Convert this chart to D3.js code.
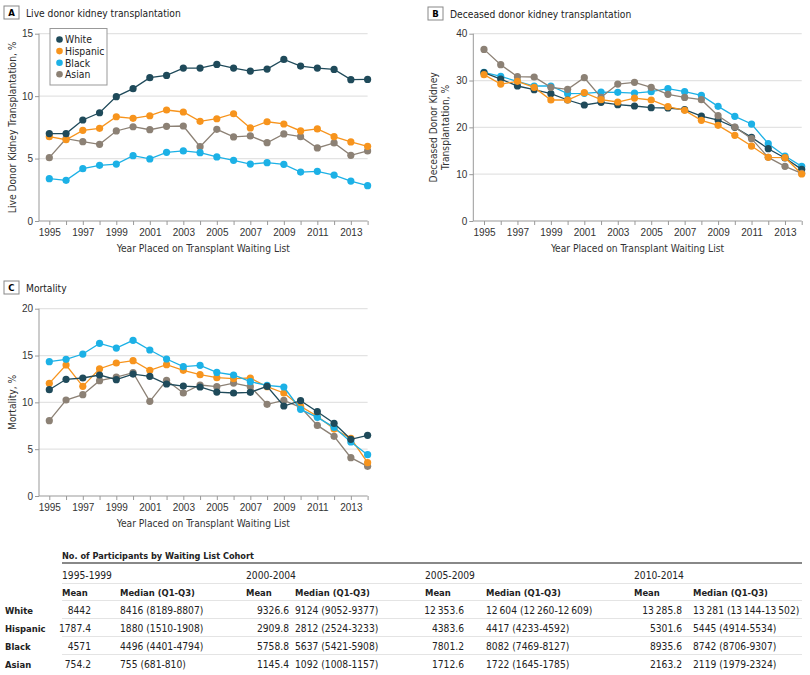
<!DOCTYPE html>
<html>
<head>
<meta charset="utf-8">
<script src="https://cdn.jsdelivr.net/npm/d3@7"></script>
<style>
  body { margin: 0; background: #fff; }
  svg { font-family: "DejaVu Sans Condensed", "DejaVu Sans", sans-serif; font-stretch: condensed; }
</style>
</head>
<body>
<div id="chart"></div>
<script>
// data
var years = d3.range(1995, 2015);
var groups = ["White", "Hispanic", "Black", "Asian"];
var colors = ["#1f4a5a", "#f7941d", "#1cb1e6", "#8c8175"];

var liveWhite    = [7.0, 7.0, 8.09, 8.67, 9.96, 10.6, 11.48, 11.66, 12.25, 12.25, 12.54, 12.25, 12.01, 12.17, 12.94, 12.41, 12.25, 12.14, 11.32, 11.34];
var liveHispanic = [6.75, 6.51, 7.26, 7.42, 8.35, 8.22, 8.43, 8.89, 8.73, 7.98, 8.19, 8.59, 7.45, 7.95, 7.77, 7.21, 7.37, 6.75, 6.33, 5.98];
var liveBlack    = [3.39, 3.26, 4.19, 4.46, 4.56, 5.23, 4.97, 5.5, 5.61, 5.47, 5.13, 4.86, 4.56, 4.67, 4.54, 3.92, 3.98, 3.68, 3.2, 2.83];
var liveAsian    = [5.07, 6.59, 6.35, 6.14, 7.21, 7.55, 7.31, 7.58, 7.61, 5.95, 7.34, 6.73, 6.81, 6.27, 6.97, 6.75, 5.85, 6.25, 5.26, 5.61];

var decWhite    = [31.67, 30.32, 28.83, 28.04, 27.19, 25.84, 24.77, 25.34, 24.84, 24.56, 24.2, 24.13, 23.77, 22.42, 21.57, 20.0, 17.86, 15.44, 13.45, 11.03];
var decHispanic = [31.25, 29.25, 29.82, 28.54, 25.84, 25.84, 27.4, 25.91, 25.41, 26.26, 25.84, 24.41, 23.63, 21.5, 20.43, 18.29, 16.01, 13.59, 13.52, 10.04];
var decBlack    = [31.74, 30.88, 29.82, 28.83, 28.83, 27.19, 27.26, 27.54, 27.47, 27.33, 27.62, 28.26, 27.62, 26.83, 24.48, 22.35, 20.71, 16.51, 13.88, 11.67];
var decAsian    = [36.65, 33.38, 30.82, 30.75, 28.54, 28.11, 30.6, 26.4, 29.25, 29.61, 28.54, 27.05, 26.4, 25.91, 22.49, 20.07, 17.58, 13.59, 11.67, 10.18];

var mortWhite    = [11.35, 12.46, 12.6, 12.92, 12.42, 13.02, 12.78, 11.96, 11.74, 11.64, 11.1, 11.0, 11.07, 11.71, 9.61, 10.18, 9.0, 7.76, 6.05, 6.48];
var mortHispanic = [12.03, 13.99, 11.71, 13.59, 14.2, 14.45, 13.42, 14.02, 13.42, 12.95, 12.63, 12.53, 12.6, 11.67, 11.0, 9.57, 8.51, 7.15, 6.16, 3.56];
var mortBlack    = [14.34, 14.59, 15.16, 16.3, 15.8, 16.62, 15.59, 14.63, 13.81, 13.95, 13.2, 12.92, 12.21, 11.81, 11.64, 9.25, 8.4, 7.33, 5.77, 4.41];
var mortAsian    = [8.04, 10.25, 10.82, 12.31, 12.7, 13.17, 10.11, 12.35, 11.0, 11.85, 11.67, 12.06, 11.67, 9.79, 10.21, 9.47, 7.54, 6.37, 4.09, 3.17];

// table
var cohorts = ["1995-1999", "2000-2004", "2005-2009", "2010-2014"];
var meanVals = [
  ["8442", "1787.4", "4571", "754.2"],
  ["9326.6", "2909.8", "5758.8", "1145.4"],
  ["12\u2009353.6", "4383.6", "7801.2", "1712.6"],
  ["13\u2009285.8", "5301.6", "8935.6", "2163.2"]
];
var medianVals = [
  ["8416 (8189-8807)", "1880 (1510-1908)", "4496 (4401-4794)", "755 (681-810)"],
  ["9124 (9052-9377)", "2812 (2524-3233)", "5637 (5421-5908)", "1092 (1008-1157)"],
  ["12\u2009604 (12\u2009260-12\u2009609)", "4417 (4233-4592)", "8082 (7469-8127)", "1722 (1645-1785)"],
  ["13\u2009281 (13\u2009144-13\u2009502)", "5445 (4914-5534)", "8742 (8706-9307)", "2119 (1979-2324)"]
];

var svg = d3.select("#chart").append("svg")
  .attr("width", 810)
  .attr("height", 675);

function drawPanel(opt) {
  var g = svg.append("g");
  var x = d3.scaleLinear().domain([1995, 2014]).range([opt.x0, opt.x1]);
  var y = d3.scaleLinear().domain([0, opt.ymax]).range([opt.yb, opt.yt]);

  // panel letter box + title
  g.append("rect")
    .attr("x", opt.tx).attr("y", opt.ty)
    .attr("width", 15).attr("height", 13)
    .attr("fill", "#fff").attr("stroke", "#888").attr("stroke-width", 1);
  g.append("text")
    .attr("x", opt.tx + 7.5).attr("y", opt.ty + 10.3)
    .attr("text-anchor", "middle")
    .attr("font-weight", "bold").attr("font-size", 9.5)
    .text(opt.letter);
  g.append("text")
    .attr("x", opt.tx + 22).attr("y", opt.ty + 10.5)
    .attr("font-size", 10.2).attr("fill", "#222")
    .text(opt.title);

  // gridlines
  var yt = d3.range(opt.step, opt.ymax + 0.1, opt.step);
  g.selectAll(".grid")
    .data(yt).enter().append("line")
    .attr("x1", opt.ax).attr("x2", opt.x1)
    .attr("y1", d => y(d)).attr("y2", d => y(d))
    .attr("stroke", "#e3e3e3").attr("stroke-width", 1.3);

  // y axis
  var yAxis = g.append("g")
    .attr("transform", "translate(" + opt.ax + ",0)")
    .call(d3.axisLeft(y).tickValues(d3.range(0, opt.ymax + 0.1, opt.step)).tickSize(4).tickPadding(2));
  yAxis.select(".domain").attr("stroke", "#999").attr("d", "M0," + opt.yt + "V" + opt.yb);
  yAxis.selectAll(".tick line").attr("stroke", "#999");
  yAxis.selectAll("text").attr("font-size", 10).attr("fill", "#333").style("font-family", "inherit");

  // x axis
  var xAxis = g.append("g")
    .attr("transform", "translate(0," + opt.yb + ")")
    .call(d3.axisBottom(x).tickValues(years).tickSize(4).tickPadding(4)
      .tickFormat(d => (d % 2 === 1 ? d : "")));
  xAxis.select(".domain").attr("stroke", "#999").attr("d", "M" + opt.ax + ",0H" + opt.x1);
  xAxis.selectAll(".tick line").attr("stroke", "#999");
  xAxis.selectAll("text").attr("font-size", 10).attr("fill", "#333").style("font-family", "inherit");

  // axis titles
  g.append("text")
    .attr("x", (opt.ax + opt.x1) / 2).attr("y", opt.yb + 31)
    .attr("text-anchor", "middle").attr("font-size", 10.2).attr("fill", "#333")
    .text("Year Placed on Transplant Waiting List");
  var ylab = g.append("text")
    .attr("transform", "translate(" + opt.ylx + "," + (opt.yt + opt.yb) / 2 + ") rotate(-90)")
    .attr("text-anchor", "middle").attr("font-size", 10.2).attr("fill", "#333");
  opt.ylabel.forEach(function(s, i) {
    ylab.append("tspan").attr("x", 0).attr("dy", i === 0 ? 0 : 12).text(s);
  });

  // lines and dots
  var line = d3.line().x((d, i) => x(years[i])).y(d => y(d));
  opt.order.forEach(function(k) {
    var vals = opt.series[k];
    g.append("path")
      .datum(vals)
      .attr("d", line)
      .attr("fill", "none").attr("stroke", colors[k]).attr("stroke-width", 1.3);
    g.selectAll(".dot" + k)
      .data(vals).enter().append("circle")
      .attr("cx", (d, i) => x(years[i]))
      .attr("cy", d => y(d))
      .attr("r", 3.6)
      .attr("fill", colors[k]);
  });
  return g;
}

var panelA = drawPanel({
  letter: "A", title: "Live donor kidney transplantation", tx: 4, ty: 6,
  ax: 39, x0: 49.3, x1: 367.6, yt: 33.7, yb: 221, ymax: 15, step: 5,
  ylx: 16, ylabel: ["Live Donor Kidney Transplantation, %"],
  series: [liveWhite, liveHispanic, liveBlack, liveAsian], order: [3, 2, 1, 0]
});
drawPanel({
  letter: "B", title: "Deceased donor kidney transplantation", tx: 428, ty: 7,
  ax: 473.3, x0: 484, x1: 801.7, yt: 33.7, yb: 221, ymax: 40, step: 10,
  ylx: 437, ylabel: ["Deceased Donor Kidney", "Transplantation, %"],
  series: [decWhite, decHispanic, decBlack, decAsian], order: [2, 0, 3, 1]
});
drawPanel({
  letter: "C", title: "Mortality", tx: 4, ty: 281,
  ax: 39, x0: 49.3, x1: 367.6, yt: 308.7, yb: 496, ymax: 20, step: 5,
  ylx: 16, ylabel: ["Mortality, %"],
  series: [mortWhite, mortHispanic, mortBlack, mortAsian], order: [3, 1, 2, 0]
});

// legend in panel A
var leg = panelA.append("g");
leg.append("rect")
  .attr("x", 50).attr("y", 28.5).attr("width", 57).attr("height", 56.5)
  .attr("fill", "#fff").attr("stroke", "#999").attr("stroke-width", 1);
groups.forEach(function(name, i) {
  leg.append("circle").attr("cx", 59.5).attr("cy", 39.5 + i * 11.6).attr("r", 3.3).attr("fill", colors[i]);
  leg.append("text").attr("x", 65).attr("y", 43.3 + i * 11.6)
    .attr("font-size", 10.3).attr("fill", "#222").text(name);
});

// participants table
var tb = svg.append("g").attr("font-size", 10.2).attr("fill", "#222");
var colMean = [62, 246, 425, 634];
var colMeanRight = [91, 289, 464, 682];
var colMedian = [120, 295, 486, 693];
var rowY = [614, 632, 650, 668];

tb.append("text").attr("x", 62).attr("y", 559).attr("font-weight", "bold").attr("font-size", 9.1)
  .text("No. of Participants by Waiting List Cohort");
tb.append("line").attr("x1", 62).attr("x2", 802).attr("y1", 563).attr("y2", 563)
  .attr("stroke", "#888").attr("stroke-width", 2);

cohorts.forEach(function(c, j) {
  tb.append("text").attr("x", colMean[j]).attr("y", 579).text(c);
  tb.append("text").attr("x", colMean[j]).attr("y", 596).attr("font-weight", "bold").attr("font-size", 9.4).text("Mean");
  tb.append("text").attr("x", colMedian[j]).attr("y", 596).attr("font-weight", "bold").attr("font-size", 9.4).text("Median (Q1-Q3)");
  groups.forEach(function(gname, i) {
    tb.append("text").attr("x", colMeanRight[j]).attr("y", rowY[i])
      .attr("text-anchor", "end").text(meanVals[j][i]);
    tb.append("text").attr("x", colMedian[j]).attr("y", rowY[i]).text(medianVals[j][i]);
  });
});
groups.forEach(function(gname, i) {
  tb.append("text").attr("x", 5).attr("y", rowY[i]).attr("font-weight", "bold").attr("font-size", 9.4).text(gname);
});

var sepY = [583.5, 600.5, 618.5, 636.5, 654.5];
sepY.forEach(function(yy) {
  tb.append("line").attr("x1", 62).attr("x2", 802).attr("y1", yy).attr("y2", yy)
    .attr("stroke", "#e4e4e4").attr("stroke-width", 1);
});
</script>
</body>
</html>
